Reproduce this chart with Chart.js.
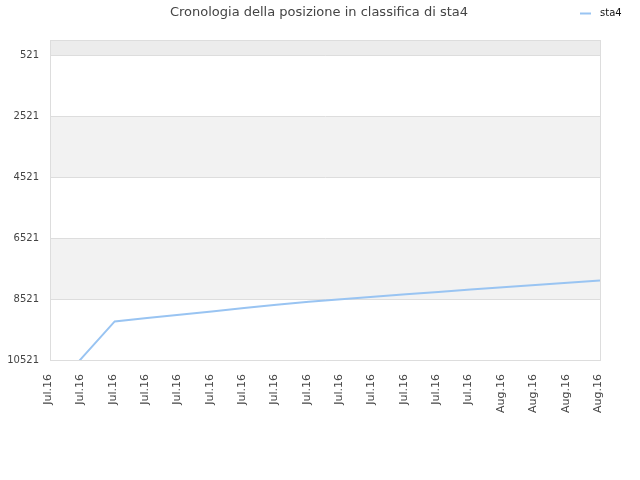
<!DOCTYPE html>
<html>
<head>
<meta charset="utf-8">
<script src="https://cdn.jsdelivr.net/npm/chart.js@4/dist/chart.umd.min.js"></script>
<style>
html,body{margin:0;padding:0;background:#fff;}
#wrap{width:640px;height:480px;}
</style>
</head>
<body>
<div id="wrap"><canvas id="c" width="640" height="480"></canvas></div>
<script>
const titleText = "Cronologia della posizione in classifica di sta4";
const seriesName = "sta4";
const categories = ["Jul.16","Jul.16","Jul.16","Jul.16","Jul.16","Jul.16","Jul.16","Jul.16","Jul.16","Jul.16","Jul.16","Jul.16","Jul.16","Jul.16","Aug.16","Aug.16","Aug.16","Aug.16"];
const positions = [11609,10436,9253,9137,9030,8923,8815,8706,8604,8525,8445,8363,8284,8205,8132,8057,7984,7908];
const yTicks = [521,2521,4521,6521,8521,10521];
const yMin = 0;
const yMax = 10521;

const lineColor = "#99c4f2";
const FONT = "'DejaVu Sans', sans-serif";

const bandsPlugin = {
  id: 'bands',
  beforeDraw(chart) {
    const {ctx, chartArea, scales} = chart;
    const y = scales.y;
    ctx.save();
    const fillBand = (a, b, col) => {
      const y1 = y.getPixelForValue(a), y2 = y.getPixelForValue(b);
      ctx.fillStyle = col;
      ctx.fillRect(chartArea.left, Math.min(y1, y2), chartArea.right - chartArea.left, Math.abs(y2 - y1));
    };
    fillBand(yMin, yTicks[0], '#ececec');
    for (let i = 1; i < yTicks.length - 1; i += 2) {
      fillBand(yTicks[i], yTicks[i + 1], '#f2f2f2');
    }
    ctx.restore();
  },
  afterDraw(chart) {
    const {ctx, chartArea} = chart;
    ctx.save();
    ctx.strokeStyle = '#dddddd';
    ctx.lineWidth = 1;
    ctx.beginPath();
    ctx.moveTo(chartArea.left, chartArea.top + 0.5);
    ctx.lineTo(chartArea.right, chartArea.top + 0.5);
    ctx.moveTo(chartArea.right + 0.5, chartArea.top);
    ctx.lineTo(chartArea.right + 0.5, chartArea.bottom);
    ctx.stroke();
    // title
    ctx.fillStyle = '#444444';
    ctx.font = "13px " + FONT;
    ctx.textAlign = 'center';
    ctx.textBaseline = 'middle';
    ctx.fillText(titleText, 319, 12.5);
    // legend
    const ds = chart.data.datasets[0];
    ctx.strokeStyle = ds.borderColor;
    ctx.lineWidth = 2;
    ctx.beginPath();
    ctx.moveTo(580, 13.5);
    ctx.lineTo(591, 13.5);
    ctx.stroke();
    ctx.fillStyle = '#111111';
    ctx.font = "10px " + FONT;
    ctx.textAlign = 'left';
    ctx.fillText(ds.label, 600, 13.5);
    ctx.restore();
  }
};

new Chart(document.getElementById('c'), {
  type: 'line',
  data: {
    labels: categories,
    datasets: [{
      label: seriesName,
      data: positions,
      borderColor: lineColor,
      backgroundColor: lineColor,
      borderWidth: 2,
      pointRadius: 0,
      tension: 0,
      fill: false
    }]
  },
  options: {
    responsive: false,
    devicePixelRatio: 1,
    animation: false,
    layout: { padding: { top: 40, right: 40, left: 0, bottom: 0 } },
    plugins: {
      legend: { display: false },
      title: { display: false },
      tooltip: { enabled: false }
    },
    scales: {
      x: {
        offset: false,
        grid: { display: false, drawTicks: false },
        border: { display: true, color: '#dddddd', width: 1 },
        ticks: {
          autoSkip: false,
          minRotation: 90,
          maxRotation: 90,
          padding: 14,
          labelOffset: -2,
          color: '#444444',
          font: { family: FONT, size: 11 }
        },
        afterFit(scale) { scale.height = 120; }
      },
      y: {
        reverse: true,
        min: yMin,
        max: yMax,
        afterBuildTicks(scale) { scale.ticks = yTicks.map(v => ({ value: v })); },
        grid: { color: '#dddddd', drawTicks: false, lineWidth: 1 },
        border: { display: true, color: '#dddddd', width: 1 },
        ticks: {
          padding: 11,
          color: '#444444',
          font: { family: FONT, size: 10 },
          callback: (v) => String(v)
        },
        afterFit(scale) { scale.width = 50; }
      }
    }
  },
  plugins: [bandsPlugin]
});
</script>
</body>
</html>
